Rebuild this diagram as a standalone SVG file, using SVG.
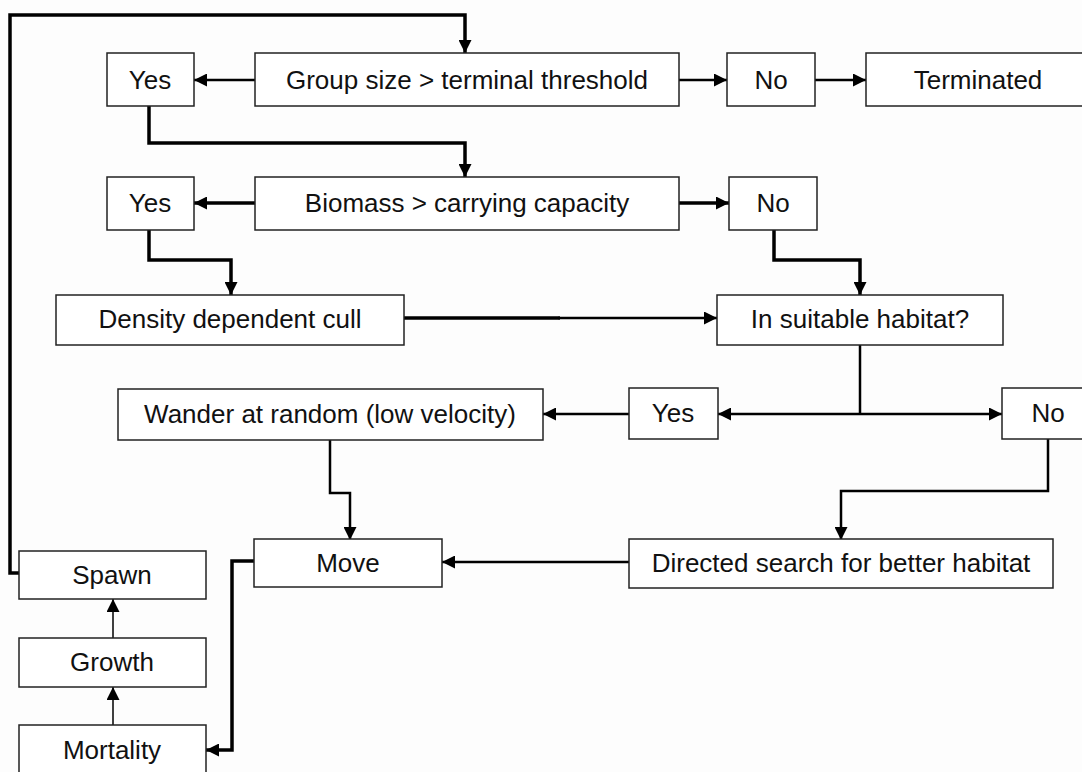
<svg xmlns="http://www.w3.org/2000/svg" width="1082" height="772" viewBox="0 0 1082 772">
<style>
.box{fill:#fff;stroke:#222;stroke-width:1.5}
.t{font-family:"Liberation Sans",Arial,sans-serif;font-size:26px;fill:#111;text-anchor:middle;dominant-baseline:central}
.c{fill:none;stroke:#000;stroke-linejoin:miter}
.k{stroke-width:3.5}
.m{stroke-width:2.5}
.n{stroke-width:1.5}
</style>
<defs>
<marker id="ah" viewBox="0 0 10 10" refX="10" refY="5" markerWidth="13" markerHeight="13" markerUnits="userSpaceOnUse" orient="auto">
<path d="M0,0 L10,5 L0,10 z" fill="#000"/>
</marker>
</defs>
<rect width="1082" height="772" fill="#fdfdfd"/>
<g id="connectors">
<path class="c k" d="M19,573 H10 V15 H465 V53" marker-end="url(#ah)"/>
<path class="c m" d="M255,80 H194" marker-end="url(#ah)"/>
<path class="c m" d="M679,80 H727" marker-end="url(#ah)"/>
<path class="c m" d="M815,80 H866" marker-end="url(#ah)"/>
<path class="c k" d="M149,106 V143 H465 V177" marker-end="url(#ah)"/>
<path class="c k" d="M255,203 H194" marker-end="url(#ah)"/>
<path class="c k" d="M679,203 H729" marker-end="url(#ah)"/>
<path class="c k" d="M149,230 V260 H231 V295" marker-end="url(#ah)"/>
<path class="c k" d="M774,230 V260 H860 V295" marker-end="url(#ah)"/>
<path class="c k" d="M404,318 H560"/>
<path class="c m" d="M558,318 H717" marker-end="url(#ah)"/>
<path class="c m" d="M860,345 V414"/>
<path class="c m" d="M860,414 H718" marker-end="url(#ah)"/>
<path class="c m" d="M860,414 H1002" marker-end="url(#ah)"/>
<path class="c m" d="M629,414 H543" marker-end="url(#ah)"/>
<path class="c m" d="M330,440 V493 H350 V540" marker-end="url(#ah)"/>
<path class="c m" d="M1048,439 V491 H841 V540" marker-end="url(#ah)"/>
<path class="c m" d="M629,562 H442" marker-end="url(#ah)"/>
<path class="c k" d="M254,561 H232 V750 H206" marker-end="url(#ah)"/>
<path class="c n" d="M113,638 V599" marker-end="url(#ah)"/>
<path class="c n" d="M113,725 V687" marker-end="url(#ah)"/>
</g>
<g id="yes1"><rect class="box" x="107" y="53" width="87" height="53"/><text class="t" x="150" y="80">Yes</text></g>
<g id="group-size"><rect class="box" x="255" y="53" width="424" height="53"/><text class="t" x="467" y="80">Group size &gt; terminal threshold</text></g>
<g id="no1"><rect class="box" x="727" y="53" width="88" height="53"/><text class="t" x="771" y="80">No</text></g>
<g id="terminated"><rect class="box" x="866" y="53" width="230" height="53"/><text class="t" x="978" y="80">Terminated</text></g>
<g id="yes2"><rect class="box" x="107" y="177" width="87" height="53"/><text class="t" x="150" y="203">Yes</text></g>
<g id="biomass"><rect class="box" x="255" y="177" width="424" height="53"/><text class="t" x="467" y="203">Biomass &gt; carrying capacity</text></g>
<g id="no2"><rect class="box" x="729" y="177" width="88" height="53"/><text class="t" x="773" y="203">No</text></g>
<g id="cull"><rect class="box" x="56" y="295" width="348" height="50"/><text class="t" x="230" y="319">Density dependent cull</text></g>
<g id="habitat"><rect class="box" x="717" y="295" width="286" height="50"/><text class="t" x="860" y="319">In suitable habitat?</text></g>
<g id="wander"><rect class="box" x="118" y="389" width="425" height="51"/><text class="t" x="330" y="414">Wander at random (low velocity)</text></g>
<g id="yes3"><rect class="box" x="629" y="388" width="89" height="51"/><text class="t" x="673" y="413">Yes</text></g>
<g id="no3"><rect class="box" x="1002" y="388" width="100" height="51"/><text class="t" x="1048" y="413">No</text></g>
<g id="move"><rect class="box" x="254" y="539" width="188" height="48"/><text class="t" x="348" y="563">Move</text></g>
<g id="directed"><rect class="box" x="629" y="539" width="424" height="49"/><text class="t" x="841" y="563">Directed search for better habitat</text></g>
<g id="spawn"><rect class="box" x="19" y="551" width="187" height="48"/><text class="t" x="112" y="575">Spawn</text></g>
<g id="growth"><rect class="box" x="19" y="638" width="187" height="49"/><text class="t" x="112" y="662">Growth</text></g>
<g id="mortality"><rect class="box" x="19" y="725" width="187" height="60"/><text class="t" x="112" y="750">Mortality</text></g>
</svg>
